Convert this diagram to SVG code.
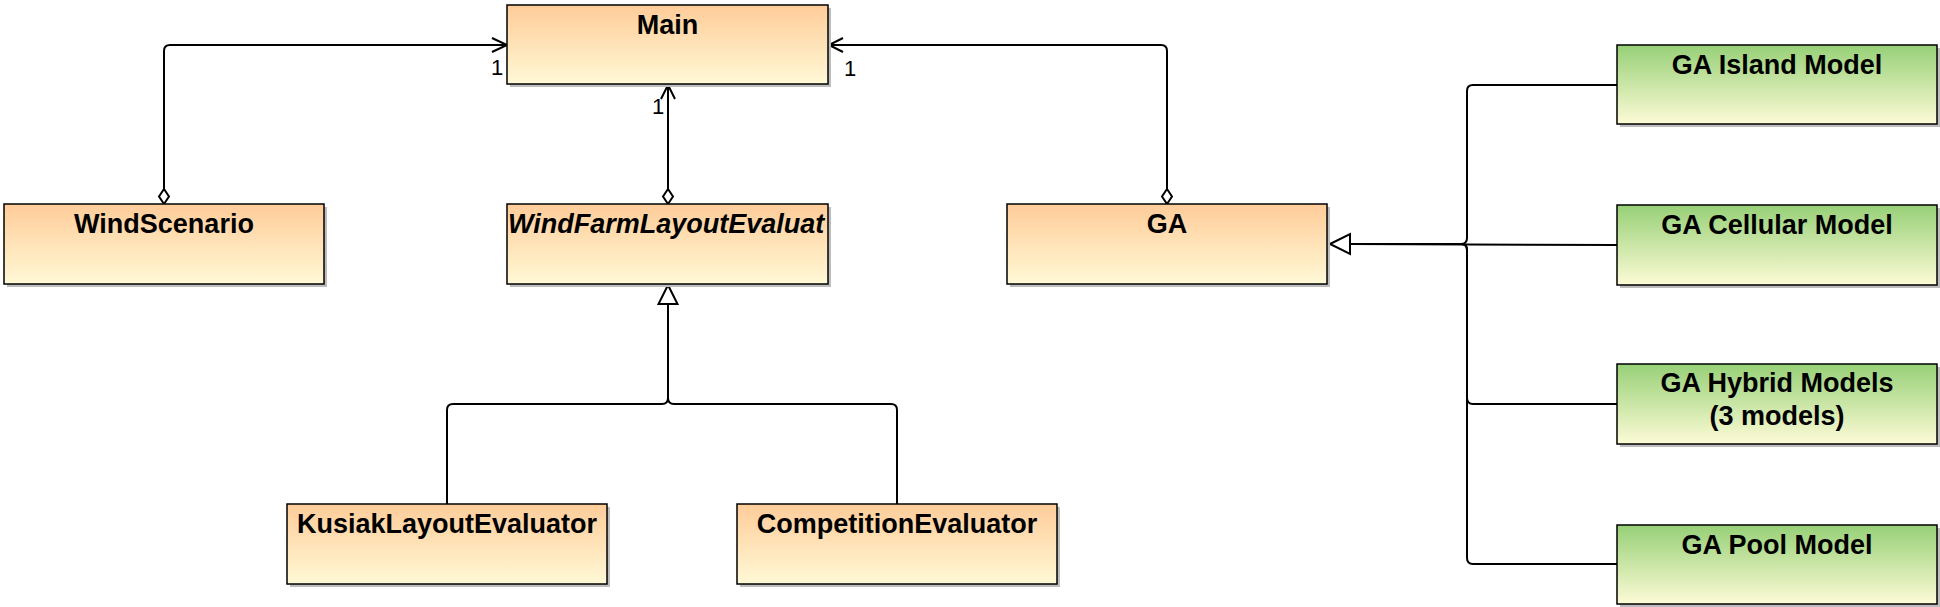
<svg xmlns="http://www.w3.org/2000/svg" width="1940" height="607" viewBox="0 0 1940 607">
  <defs>
    <linearGradient id="gOrange" x1="0" y1="0" x2="0" y2="1">
      <stop offset="0" stop-color="#FFCC99"/>
      <stop offset="1" stop-color="#FFF9D6"/>
    </linearGradient>
    <linearGradient id="gGreen" x1="0" y1="0" x2="0" y2="1">
      <stop offset="0" stop-color="#97D077"/>
      <stop offset="1" stop-color="#FDFBD6"/>
    </linearGradient>
    <clipPath id="clipWFLE">
      <rect x="507" y="204" width="321" height="80"/>
    </clipPath>
  </defs>
  <style>
    .shadow { fill: #BDBDBD; }
    .box { stroke: #000; stroke-width: 1.5; }
    .orange { fill: url(#gOrange); }
    .green { fill: url(#gGreen); }
    .title { font-family: "Liberation Sans", Arial, sans-serif; font-weight: bold; font-size: 27px; fill: #000; text-anchor: middle; }
    .italic { font-style: italic; text-anchor: start; }
    .mult { font-family: "Liberation Sans", Arial, sans-serif; font-size: 22px; fill: #000; }
    .line { fill: none; stroke: #000; stroke-width: 2; }
    .head { fill: none; stroke: #000; stroke-width: 2; }
    .hollow { fill: #fff; stroke: #000; stroke-width: 2; }
  </style>

  <g id="connectors">
    <!-- WindScenario -> Main -->
    <path class="line" d="M164,189 L164,51 Q164,45 170,45 L506,45"/>
    <polyline class="head" points="492,38 507,45 492,52"/>
    <polygon class="hollow" points="164,204 169,196.5 164,189 159,196.5"/>
    <!-- WindFarmLayoutEvaluator -> Main -->
    <path class="line" d="M668,189 L668,85"/>
    <polyline class="head" points="661,99 668,85 675,99"/>
    <polygon class="hollow" points="668,204 673,196.5 668,189 663,196.5"/>
    <!-- GA -> Main -->
    <path class="line" d="M1167,189 L1167,51 Q1167,45 1161,45 L829,45"/>
    <polyline class="head" points="843,38 829,45 843,52"/>
    <polygon class="hollow" points="1167,204 1172,196.5 1167,189 1162,196.5"/>
    <!-- Evaluators inheritance -->
    <path class="line" d="M447,504 L447,410 Q447,404 453,404 L662,404 Q668,404 668,398 L668,304"/>
    <path class="line" d="M897,504 L897,410 Q897,404 891,404 L674,404 Q668,404 668,398 L668,304"/>
    <polygon class="hollow" points="668,285 677.5,304 658.5,304"/>
    <!-- GA models inheritance -->
    <path class="line" d="M1617,85 L1473,85 Q1467,85 1467,91 L1467,238 Q1467,244 1461,244 L1350,244"/>
    <path class="line" d="M1617,245 L1350,244"/>
    <path class="line" d="M1617,404 L1473,404 Q1467,404 1467,398 L1467,250 Q1467,244 1461,244 L1350,244"/>
    <path class="line" d="M1617,564 L1473,564 Q1467,564 1467,558 L1467,250 Q1467,244 1461,244 L1350,244"/>
    <polygon class="hollow" points="1330,244 1350,234 1350,254"/>
    <!-- multiplicities -->
    <text class="mult" x="491" y="75">1</text>
    <text class="mult" x="844" y="76">1</text>
    <text class="mult" x="652" y="114">1</text>
  </g>

  <g id="node-main">
    <rect class="shadow" x="510" y="8" width="321" height="79"/>
    <rect class="box orange" x="507" y="5" width="321" height="79"/>
    <text class="title" x="667.5" y="34">Main</text>
  </g>
  <g id="node-windscenario">
    <rect class="shadow" x="7" y="207" width="320" height="80"/>
    <rect class="box orange" x="4" y="204" width="320" height="80"/>
    <text class="title" x="164" y="233">WindScenario</text>
  </g>
  <g id="node-wfle">
    <rect class="shadow" x="510" y="207" width="321" height="80"/>
    <rect class="box orange" x="507" y="204" width="321" height="80"/>
    <text class="title italic" x="508" y="233" clip-path="url(#clipWFLE)">WindFarmLayoutEvaluat</text>
  </g>
  <g id="node-ga">
    <rect class="shadow" x="1010" y="207" width="320" height="80"/>
    <rect class="box orange" x="1007" y="204" width="320" height="80"/>
    <text class="title" x="1167" y="233">GA</text>
  </g>
  <g id="node-kusiak">
    <rect class="shadow" x="290" y="507" width="320" height="80"/>
    <rect class="box orange" x="287" y="504" width="320" height="80"/>
    <text class="title" x="447" y="533">KusiakLayoutEvaluator</text>
  </g>
  <g id="node-competition">
    <rect class="shadow" x="740" y="507" width="320" height="80"/>
    <rect class="box orange" x="737" y="504" width="320" height="80"/>
    <text class="title" x="897" y="533">CompetitionEvaluator</text>
  </g>
  <g id="node-island">
    <rect class="shadow" x="1620" y="48" width="320" height="79"/>
    <rect class="box green" x="1617" y="45" width="320" height="79"/>
    <text class="title" x="1777" y="74">GA Island Model</text>
  </g>
  <g id="node-cellular">
    <rect class="shadow" x="1620" y="208" width="320" height="80"/>
    <rect class="box green" x="1617" y="205" width="320" height="80"/>
    <text class="title" x="1777" y="234">GA Cellular Model</text>
  </g>
  <g id="node-hybrid">
    <rect class="shadow" x="1620" y="367" width="320" height="80"/>
    <rect class="box green" x="1617" y="364" width="320" height="80"/>
    <text class="title" x="1777" y="392">GA Hybrid Models</text>
    <text class="title" x="1777" y="425">(3 models)</text>
  </g>
  <g id="node-pool">
    <rect class="shadow" x="1620" y="528" width="320" height="79"/>
    <rect class="box green" x="1617" y="525" width="320" height="79"/>
    <text class="title" x="1777" y="554">GA Pool Model</text>
  </g>
</svg>
